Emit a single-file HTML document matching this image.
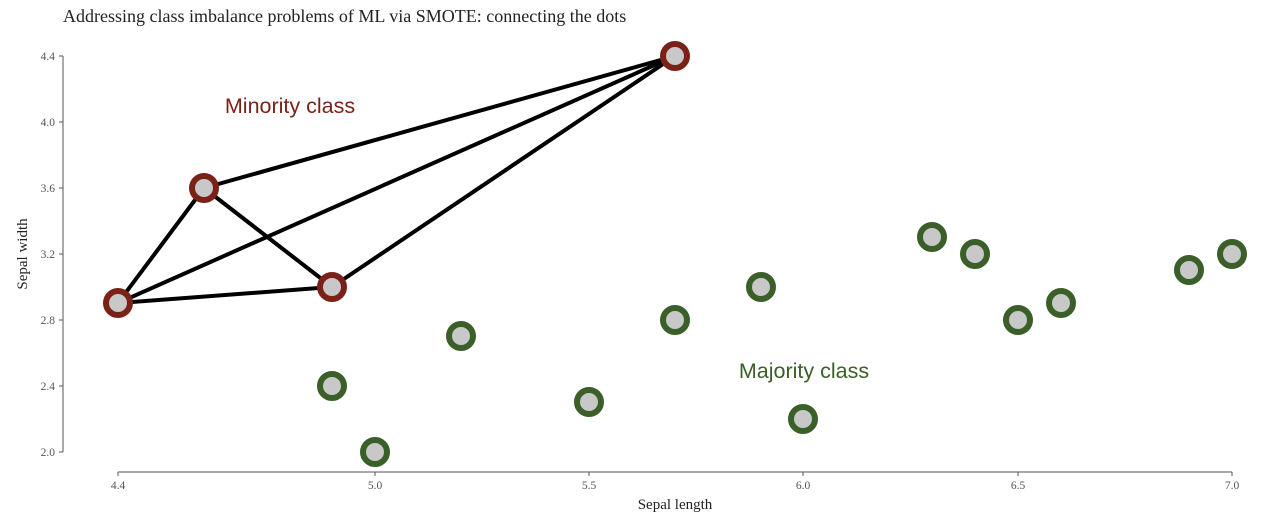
<!DOCTYPE html><html><head><style>body{margin:0;background:#fff}</style></head><body>
<svg width="1272" height="516" xmlns="http://www.w3.org/2000/svg" font-family="Liberation Serif, serif">
<text x="63" y="22" font-size="18" fill="#222">Addressing class imbalance problems of ML via SMOTE: connecting the dots</text>
<g stroke="#555" stroke-width="1" fill="none">
<line x1="63" y1="56" x2="63" y2="452"/>
<line x1="118" y1="472" x2="1232" y2="472"/>
<line x1="59" y1="56" x2="63" y2="56"/><line x1="59" y1="122" x2="63" y2="122"/><line x1="59" y1="188" x2="63" y2="188"/><line x1="59" y1="254" x2="63" y2="254"/><line x1="59" y1="320" x2="63" y2="320"/><line x1="59" y1="386" x2="63" y2="386"/><line x1="59" y1="452" x2="63" y2="452"/>
<line x1="118" y1="472" x2="118" y2="476"/><line x1="375" y1="472" x2="375" y2="476"/><line x1="589" y1="472" x2="589" y2="476"/><line x1="803" y1="472" x2="803" y2="476"/><line x1="1018" y1="472" x2="1018" y2="476"/><line x1="1232" y1="472" x2="1232" y2="476"/>
</g>
<g font-size="11.5" fill="#555" text-anchor="end">
<text x="55" y="60">4.4</text><text x="55" y="126">4.0</text><text x="55" y="192">3.6</text><text x="55" y="258">3.2</text><text x="55" y="324">2.8</text><text x="55" y="390">2.4</text><text x="55" y="456">2.0</text>
</g>
<g font-size="11.5" fill="#555" text-anchor="middle">
<text x="118" y="489">4.4</text><text x="375" y="489">5.0</text><text x="589" y="489">5.5</text><text x="803" y="489">6.0</text><text x="1018" y="489">6.5</text><text x="1232" y="489">7.0</text>
</g>
<text x="675" y="509" font-size="15" fill="#222" text-anchor="middle">Sepal length</text>
<text transform="translate(27,254) rotate(-90)" font-size="15" fill="#222" text-anchor="middle">Sepal width</text>
<g stroke="#000" stroke-width="4">
<line x1="118" y1="303" x2="204" y2="188"/><line x1="118" y1="303" x2="332" y2="287"/><line x1="118" y1="303" x2="675" y2="56"/>
<line x1="204" y1="188" x2="332" y2="287"/><line x1="204" y1="188" x2="675" y2="56"/><line x1="332" y1="287" x2="675" y2="56"/>
</g>
<g fill="#c8c8c8" stroke="#7a2218" stroke-width="6">
<circle cx="118" cy="303" r="12"/><circle cx="204" cy="188" r="12"/><circle cx="332" cy="287" r="12"/><circle cx="675" cy="56" r="12"/>
</g>
<g fill="#c8c8c8" stroke="#3a5f28" stroke-width="6">
<circle cx="332" cy="386" r="12"/><circle cx="375" cy="452" r="12"/><circle cx="461" cy="336" r="12"/><circle cx="589" cy="402" r="12"/><circle cx="675" cy="320" r="12"/><circle cx="761" cy="287" r="12"/><circle cx="803" cy="419" r="12"/><circle cx="932" cy="237" r="12"/><circle cx="975" cy="254" r="12"/><circle cx="1018" cy="320" r="12"/><circle cx="1061" cy="303" r="12"/><circle cx="1189" cy="270" r="12"/><circle cx="1232" cy="254" r="12"/>
</g>
<text x="290" y="113" font-family="Liberation Sans, sans-serif" font-size="21.5" fill="#7a2218" text-anchor="middle">Minority class</text>
<text x="804" y="378" font-family="Liberation Sans, sans-serif" font-size="21.5" fill="#3a5f28" text-anchor="middle">Majority class</text>
</svg></body></html>
